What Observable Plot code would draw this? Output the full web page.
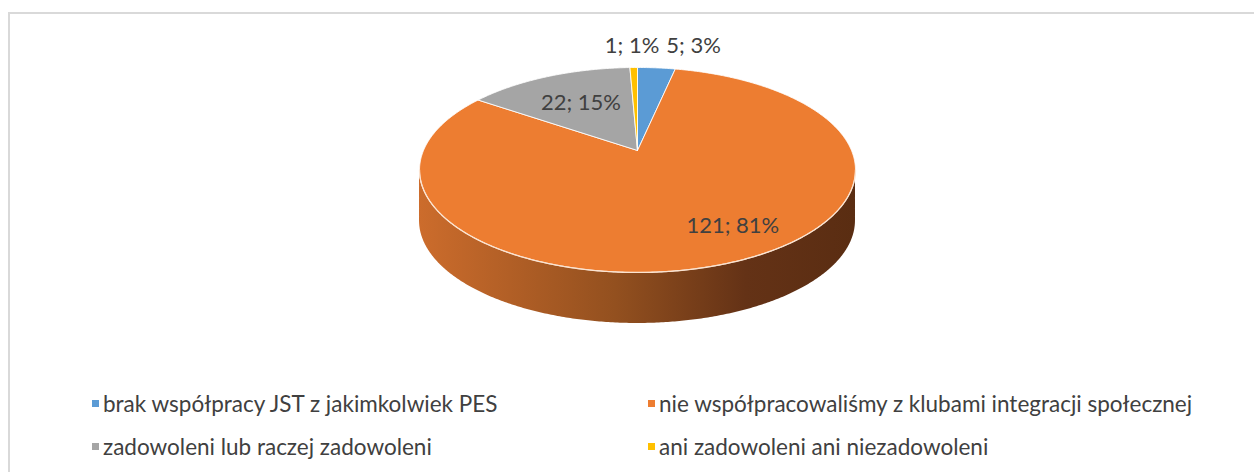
<!DOCTYPE html>
<html><head><meta charset="utf-8">
<script src="https://cdn.jsdelivr.net/npm/d3@7"></script>
<script src="https://cdn.jsdelivr.net/npm/@observablehq/plot@0.6"></script>
<style>
body{margin:0;background:#fff;width:1254px;height:472px;overflow:hidden;position:relative;font-family:Lato,"Open Sans",sans-serif;}
#frame{position:absolute;left:8px;top:12px;width:1300px;height:520px;border-top:2px solid #d9d9d9;border-left:2px solid #d9d9d9;}
#chart{position:absolute;left:0;top:0;}
#legend{position:absolute;left:92px;top:382px;display:grid;grid-template-columns:556px auto;grid-auto-rows:43px;align-items:center;}
.item{display:flex;align-items:center;font-size:22.5px;color:#404040;white-space:nowrap;}
.sw{width:7px;height:7px;margin-right:4px;flex:none}
</style></head><body>
<div id="frame"></div><div id="chart"></div><div id="legend"></div>
<script>
const categories = [
  "brak współpracy JST z jakimkolwiek PES",
  "nie współpracowaliśmy z klubami integracji społecznej",
  "zadowoleni lub raczej zadowoleni",
  "ani zadowoleni ani niezadowoleni"
];
const values = [5, 121, 22, 1];
const colors = ["#5b9bd5", "#ed7d31", "#a5a5a5", "#ffc000"];

// layout (not data)
const W = 1254, H = 372;
const CX = 637, CY = 150, RX = 214, RY = 98.8, K = 0.19, DEPTH = 51;
const total = d3.sum(values);

function proj(r, a) { // a in radians, clockwise from 12 o'clock
  const u = r * Math.sin(a), v = r * Math.cos(a), w = 1 + K * v;
  return {x: u / w, y: v / w};
}

// slice angles from data
let acc = 0;
const slices = values.map((v, i) => {
  const a0 = acc / total * 2 * Math.PI; acc += v;
  const a1 = acc / total * 2 * Math.PI;
  return {i, name: categories[i], value: v, a0, a1, color: colors[i]};
});

function slicePoly(s) {
  const pts = [{x: 0, y: 0}];
  const n = Math.max(2, Math.ceil((s.a1 - s.a0) / (Math.PI / 360)));
  for (let j = 0; j <= n; j++) pts.push(proj(1, s.a0 + (s.a1 - s.a0) * j / n));
  pts.push({x: 0, y: 0});
  return pts;
}

// visible side (front) between silhouette angles
const aR = Math.acos(-K), aL = 2 * Math.PI - aR;
const dy = DEPTH / RY;
const sideMarks = [];
const rimPts = [];
slices.forEach(s => {
  const b0 = Math.max(s.a0, aR), b1 = Math.min(s.a1, aL);
  if (b1 <= b0) return;
  const pts = [];
  const n = Math.ceil((b1 - b0) / (Math.PI / 360));
  for (let j = 0; j <= n; j++) {
    const p = proj(1, b0 + (b1 - b0) * j / n);
    pts.push({x: p.x, y1: p.y, y2: p.y - dy});
    rimPts.push({x: p.x, y: p.y});
  }
  sideMarks.push(Plot.areaY(pts, {x: "x", y1: "y1", y2: "y2", fill: "url(#sideGrad)", curve: "linear"}));
});

const labelCfg = [
  {r: 1.2, dx: 34, dy: -8},
  {r: 0.7, dx: 32, dy: 2},
  {r: 0.6, dx: 0, dy: 0},
  {r: 1.2, dx: -1, dy: -8}
];
const labelMarks = slices.map(s => {
  const c = labelCfg[s.i];
  const p = proj(c.r, (s.a0 + s.a1) / 2);
  return Plot.text([{x: p.x, y: p.y, t: `${s.value}; ${Math.round(s.value / total * 100)}%`}],
    {x: "x", y: "y", text: "t", dx: c.dx, dy: c.dy, fill: "#404040", fontSize: 22, fontFamily: "Lato"});
});

const plot = Plot.plot({
  width: W, height: H,
  marginTop: 0, marginBottom: 0, marginLeft: 0, marginRight: 0,
  x: {domain: [-CX / RX, (W - CX) / RX], range: [0, W], axis: null},
  y: {domain: [(CY - H) / RY, CY / RY], range: [H, 0], axis: null},
  style: {background: "transparent", fontFamily: "Lato"},
  marks: [
    ...sideMarks,
    ...slices.map(s => Plot.line(slicePoly(s), {x: "x", y: "y", fill: s.color, stroke: "#ffffff", strokeWidth: 1, strokeOpacity: 0.85, curve: "linear"})),
    Plot.line(rimPts, {x: "x", y: "y", stroke: "#fbe3d0", strokeWidth: 1.3}),
    ...labelMarks
  ]
});

const defs = d3.select(plot).insert("defs", ":first-child");
const g = defs.append("linearGradient").attr("id", "sideGrad")
  .attr("gradientUnits", "userSpaceOnUse").attr("x1", CX - 218).attr("x2", CX + 218).attr("y1", 0).attr("y2", 0);
[[0, "#cc6c2c"], [0.45, "#93501f"], [0.75, "#643216"], [1, "#5a2d12"]].forEach(([o, c]) =>
  g.append("stop").attr("offset", o).attr("stop-color", c));

document.getElementById("chart").appendChild(plot);

const legend = d3.select("#legend");
categories.forEach((c, i) => {
  const it = legend.append("div").attr("class", "item");
  it.append("div").attr("class", "sw").style("background", colors[i]);
  it.append("span").text(c);
});
</script>
</body></html>
